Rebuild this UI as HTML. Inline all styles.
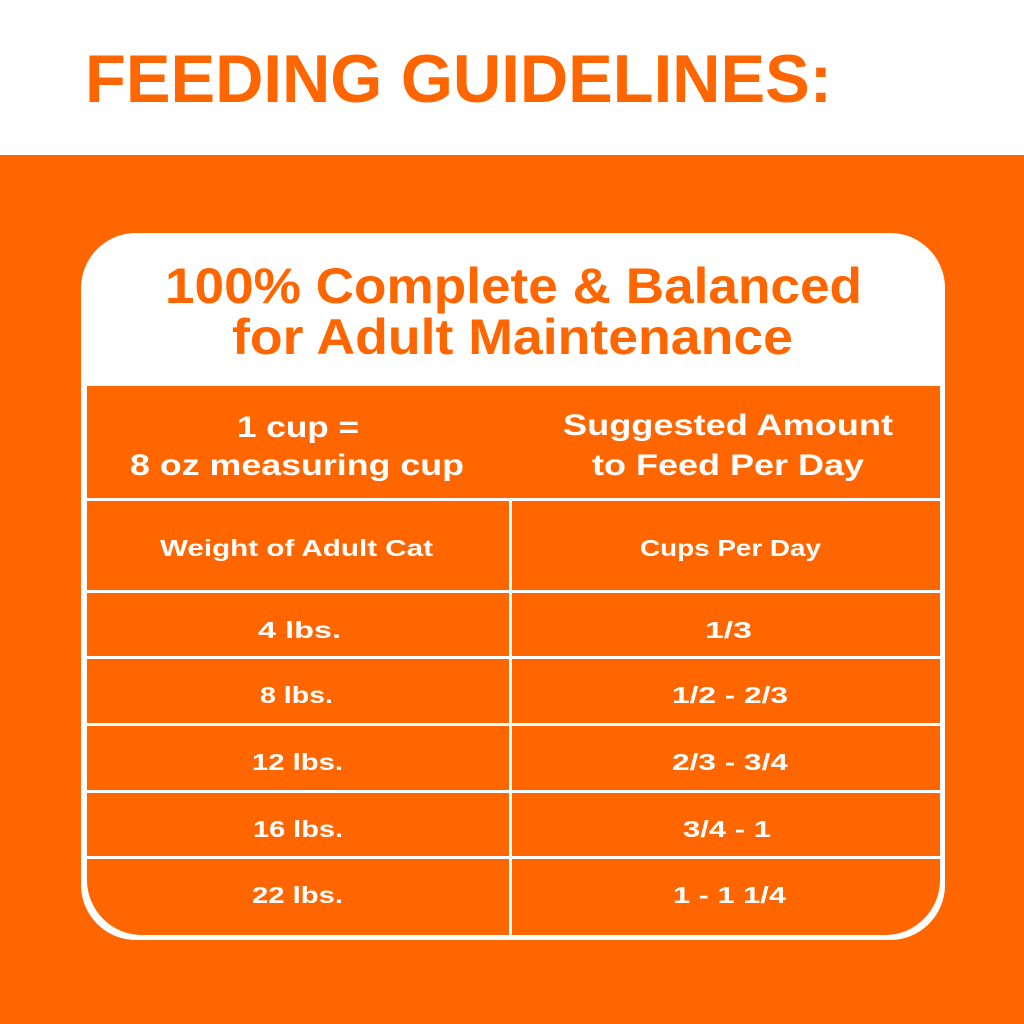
<!DOCTYPE html>
<html><head><style>html,body{margin:0;padding:0;background:#fff}svg{display:block}</style></head>
<body>
<svg width="1024" height="1024" viewBox="0 0 1024 1024" xmlns="http://www.w3.org/2000/svg" font-family="Liberation Sans, sans-serif" font-weight="bold">
<rect x="0" y="0" width="1024" height="155" fill="#fff"/>
<rect x="0" y="155" width="1024" height="869" fill="#FF6600"/>
<text x="85" y="102" font-size="68" fill="#FF6600" textLength="747" lengthAdjust="spacingAndGlyphs">FEEDING GUIDELINES:</text>
<rect x="81" y="233" width="864" height="707" rx="55" fill="#fff"/>
<path d="M87 386 H940 V880 A55 55 0 0 1 885 935 H142 A55 55 0 0 1 87 880 Z" fill="#FF6600"/>
<g fill="#fff">
<rect x="87" y="498" width="853" height="3"/>
<rect x="87" y="590" width="853" height="3"/>
<rect x="87" y="656" width="853" height="3"/>
<rect x="87" y="723" width="853" height="3"/>
<rect x="87" y="790" width="853" height="3"/>
<rect x="87" y="856" width="853" height="3"/>
<rect x="509" y="498" width="3" height="437"/>
</g>
<g fill="#FF6600" font-size="50">
<text x="165" y="303" textLength="697" lengthAdjust="spacingAndGlyphs">100% Complete &amp; Balanced</text>
<text x="232" y="354" textLength="561" lengthAdjust="spacingAndGlyphs">for Adult Maintenance</text>
</g>
<g fill="#fff" font-size="30">
<text x="237" y="437" textLength="122" lengthAdjust="spacingAndGlyphs">1 cup =</text>
<text x="130" y="475" textLength="334" lengthAdjust="spacingAndGlyphs">8 oz measuring cup</text>
<text x="563" y="435" textLength="330" lengthAdjust="spacingAndGlyphs">Suggested Amount</text>
<text x="592" y="475" textLength="272" lengthAdjust="spacingAndGlyphs">to Feed Per Day</text>
</g>
<g fill="#fff" font-size="23">
<text x="160" y="556" textLength="273" lengthAdjust="spacingAndGlyphs">Weight of Adult Cat</text>
<text x="640" y="556" textLength="181" lengthAdjust="spacingAndGlyphs">Cups Per Day</text>
<text x="258" y="638" textLength="83" lengthAdjust="spacingAndGlyphs">4 lbs.</text>
<text x="705" y="638" textLength="47" lengthAdjust="spacingAndGlyphs">1/3</text>
<text x="260" y="703" textLength="73" lengthAdjust="spacingAndGlyphs">8 lbs.</text>
<text x="672" y="703" textLength="116" lengthAdjust="spacingAndGlyphs">1/2 - 2/3</text>
<text x="252" y="770" textLength="91" lengthAdjust="spacingAndGlyphs">12 lbs.</text>
<text x="672" y="770" textLength="116" lengthAdjust="spacingAndGlyphs">2/3 - 3/4</text>
<text x="253" y="837" textLength="90" lengthAdjust="spacingAndGlyphs">16 lbs.</text>
<text x="683" y="837" textLength="88" lengthAdjust="spacingAndGlyphs">3/4 - 1</text>
<text x="252" y="903" textLength="91" lengthAdjust="spacingAndGlyphs">22 lbs.</text>
<text x="673" y="903" textLength="113" lengthAdjust="spacingAndGlyphs">1 - 1 1/4</text>
</g>
</svg>
</body></html>
